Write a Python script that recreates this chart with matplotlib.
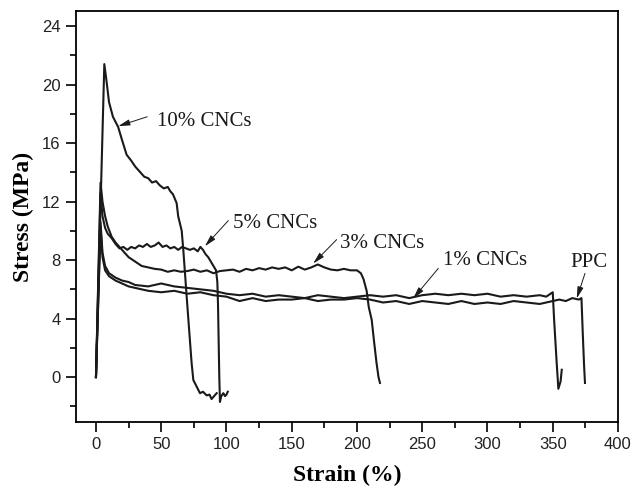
import matplotlib
matplotlib.use("Agg")
import matplotlib.pyplot as plt
from matplotlib.ticker import MultipleLocator

# stress-strain curves (strain %, stress MPa)
strain10 = [0, 3, 6.4, 8, 10, 13, 17, 20, 23.5, 27, 30, 34, 37, 40, 43, 46, 49, 52, 55, 57,
            59, 61.8, 63, 65.7, 67, 69.5, 72, 73.3, 74.6, 77.2, 79.7, 82, 84.8, 87, 88.6, 90.5, 92.5]
stress10 = [0, 10, 21.4, 20.3, 18.8, 17.8, 17.1, 16.2, 15.2, 14.8, 14.4, 14.0, 13.7, 13.6, 13.3, 13.4, 13.1, 12.9, 13.0, 12.7,
            12.5, 11.9, 11.0, 10.0, 8.6, 5.5, 2.5, 0.95, -0.2, -0.66, -1.1, -1.0, -1.25, -1.2, -1.5, -1.3, -1.1]

strain5 = [0, 3.5, 5, 7, 9, 12, 15, 18, 21, 24, 27, 30, 33, 36, 39, 42, 45, 48, 51, 54, 57, 60,
           63, 66, 69, 72, 75, 78, 80, 82, 84, 86, 88, 90, 92, 93, 93.5, 94, 94.5, 95, 96, 97.6, 98.9, 100, 101]
stress5 = [0, 12.6, 11.0, 10.2, 9.8, 9.5, 9.1, 8.8, 8.9, 8.7, 8.9, 8.8, 9.0, 8.9, 9.1, 8.9, 9.0, 9.2, 8.9, 9.0, 8.8, 8.9,
           8.7, 8.9, 8.8, 8.7, 8.8, 8.6, 8.9, 8.7, 8.4, 8.2, 7.9, 7.6, 7.3, 6.5, 5.0, 2.5, 0.0, -1.7, -1.3, -1.1, -1.3, -1.2, -1.0]

strain3 = [0, 3.5, 5, 7, 9, 12, 15, 18, 21, 25, 30, 35, 40, 45, 50, 55, 60, 65, 70, 75, 80, 85, 90,
           95, 100, 105, 110, 115, 120, 125, 130, 135, 140, 145, 150, 155, 160, 165, 170, 175, 180, 185,
           190, 195, 200, 203, 205, 207.4, 209, 211.3, 213, 215, 216.5, 217.6]
stress3 = [0, 13.3, 12.0, 11.0, 10.3, 9.6, 9.2, 8.9, 8.6, 8.2, 7.9, 7.6, 7.5, 7.4, 7.35, 7.2, 7.3, 7.2, 7.25, 7.35, 7.2, 7.3, 7.1,
           7.25, 7.3, 7.35, 7.2, 7.4, 7.3, 7.45, 7.35, 7.5, 7.4, 7.5, 7.3, 7.55, 7.35, 7.5, 7.7, 7.5, 7.35, 7.3,
           7.4, 7.3, 7.3, 7.1, 6.7, 5.9, 4.8, 3.9, 2.5, 0.95, 0.0, -0.4]

strain1 = [0, 3.5, 5, 7, 10, 15, 20, 25, 30, 40, 50, 60, 70, 80, 90, 100, 110, 120, 130, 140, 150, 160,
           170, 180, 190, 200, 210, 220, 230, 240, 250, 260, 270, 280, 290, 300, 310, 320, 330, 340, 345,
           350, 351, 353, 354.3, 356, 356.9]
stress1 = [0, 10.6, 8.5, 7.6, 7.1, 6.8, 6.6, 6.5, 6.3, 6.2, 6.4, 6.2, 6.1, 6.0, 5.9, 5.7, 5.6, 5.7, 5.5, 5.6, 5.5, 5.4,
           5.6, 5.5, 5.4, 5.5, 5.6, 5.5, 5.6, 5.4, 5.6, 5.7, 5.6, 5.7, 5.6, 5.7, 5.5, 5.6, 5.5, 5.6, 5.5,
           5.8, 4.0, 1.0, -0.8, -0.3, 0.5]

strain_ppc = [0, 3.5, 5, 7, 10, 15, 20, 25, 30, 40, 50, 60, 70, 80, 90, 100, 110, 120, 130, 140, 150, 160,
              170, 180, 190, 200, 210, 220, 230, 240, 250, 260, 270, 280, 290, 300, 310, 320, 330, 340, 350,
              355, 360, 365, 370, 372, 373, 374, 374.7]
stress_ppc = [0, 10.3, 8.2, 7.3, 6.9, 6.6, 6.4, 6.2, 6.1, 5.9, 5.8, 5.9, 5.7, 5.8, 5.6, 5.5, 5.2, 5.4, 5.2, 5.3, 5.3, 5.4,
              5.2, 5.3, 5.3, 5.4, 5.3, 5.1, 5.2, 5.0, 5.2, 5.1, 5.0, 5.2, 5.0, 5.1, 5.0, 5.2, 5.1, 5.0, 5.2,
              5.3, 5.2, 5.4, 5.3, 5.4, 3.0, 0.8, -0.4]

labels = ["10% CNCs", "5% CNCs", "3% CNCs", "1% CNCs", "PPC"]
label_pos = [(46.5, 17.2), (105.2, 10.2), (187, 8.8), (266.2, 7.66), (363.8, 7.54)]
arrow_tail = [(39.3, 17.8), (101.4, 10.7), (184.4, 9.4), (262.3, 7.43), (374.7, 7.09)]
arrow_head = [(17.1, 17.16), (83.5, 8.95), (166.5, 7.77), (243.1, 5.38), (368.4, 5.38)]

fig, ax = plt.subplots(figsize=(6.34, 4.88), dpi=100)
fig.subplots_adjust(left=76/634, right=618/634, top=1-11/488, bottom=1-422/488)

for x, y in [(strain10, stress10), (strain5, stress5), (strain3, stress3),
             (strain1, stress1), (strain_ppc, stress_ppc)]:
    ax.plot(x, y, color="#1a1a1a", lw=1.5)

for lab, pos, tail, head in zip(labels, label_pos, arrow_tail, arrow_head):
    ax.text(pos[0], pos[1], lab, family="Liberation Serif", fontsize=15,
            ha="left", va="baseline", color="#1a1a1a")
    ax.annotate("", xy=head, xytext=tail,
                arrowprops=dict(arrowstyle="-|>,head_length=0.7,head_width=0.18",
                                color="#1a1a1a", lw=0.7, mutation_scale=10,
                                shrinkA=0, shrinkB=0))

ax.set_xlim(-15.3, 400)
ax.set_ylim(-3.07, 25.03)
ax.xaxis.set_major_locator(MultipleLocator(50))
ax.xaxis.set_minor_locator(MultipleLocator(25))
ax.yaxis.set_major_locator(MultipleLocator(4))
ax.yaxis.set_minor_locator(MultipleLocator(2))
ax.tick_params(which="both", direction="out", top=False, right=False,
               width=1.2, labelsize=12, pad=4, labelcolor="#222222")
ax.tick_params(which="major", length=7)
ax.tick_params(which="minor", length=4.5)
for lbl in ax.get_xticklabels() + ax.get_yticklabels():
    lbl.set_family("Liberation Sans")
for s in ax.spines.values():
    s.set_linewidth(1.3)

ax.set_xlabel("Strain (%)", family="Liberation Serif", fontweight="bold", fontsize=17)
ax.set_ylabel("Stress (MPa)", family="Liberation Serif", fontweight="bold", fontsize=17)
ax.xaxis.set_label_coords(0.5, -0.105)
ax.yaxis.set_label_coords(-0.077, 0.5)

fig.savefig("out.png", dpi=100)
